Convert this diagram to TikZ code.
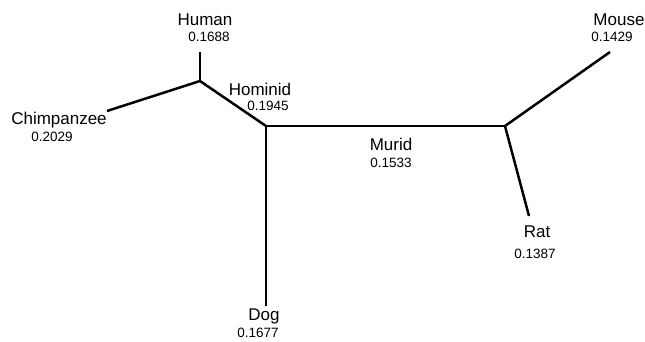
\documentclass[tikz,border=0pt]{standalone}
\usepackage{fontspec}
\setmainfont{Liberation Sans}
\begin{document}
\begin{tikzpicture}[x=1pt,y=-1pt,
  branch/.style={line width=2.5pt,line cap=butt,line join=miter},
  taxon/.style={font=\fontsize{17}{19}\selectfont,inner sep=0pt},
  blen/.style={font=\fontsize{13.5}{15}\selectfont,inner sep=0pt}]
\useasboundingbox (0,0) rectangle (645,341);
% junctions and tips
\coordinate (humantip) at (200,52);
\coordinate (hj) at (200,81);
\coordinate (chimptip) at (107,111);
\coordinate (hominid) at (266,126);
\coordinate (murid) at (505,126);
\coordinate (mousetip) at (610,52);
\coordinate (rattip) at (529,216);
\coordinate (dogtip) at (266,306);
% branches
\draw[branch] (humantip) -- (hj);
\draw[branch] (chimptip) -- (hj) -- (hominid);
\draw[branch] (hominid) -- (murid);
\draw[branch] (hominid) -- (dogtip);
\draw[branch] (murid) -- (mousetip);
\draw[branch] (murid) -- (rattip);
% labels
\node[taxon] (lhuman) at (205,20) {Human};
\node[blen] (nhuman) at (209,37) {0.1688};
\node[taxon] (lchimp) at (59,120) {Chimpanzee};
\node[blen] (nchimp) at (52,137) {0.2029};
\node[taxon] (lhominid) at (260,89) {Hominid};
\node[blen] (nhominid) at (268,106) {0.1945};
\node[taxon] (lmurid) at (391,144) {Murid};
\node[blen] (nmurid) at (391,163) {0.1533};
\node[taxon] (lmouse) at (619,20) {Mouse};
\node[blen] (nmouse) at (612,37) {0.1429};
\node[taxon] (lrat) at (537,232) {Rat};
\node[blen] (nrat) at (535,254) {0.1387};
\node[taxon] (ldog) at (264,316) {Dog};
\node[blen] (ndog) at (258,333) {0.1677};
\end{tikzpicture}
\end{document}
